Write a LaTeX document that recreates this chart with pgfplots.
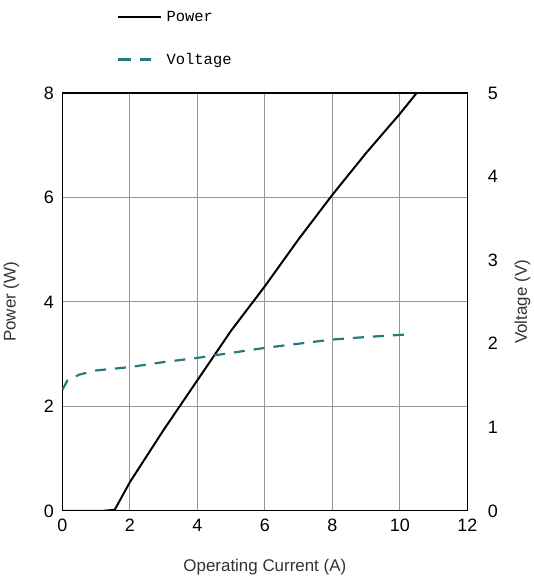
\documentclass[border=0pt]{standalone}
\usepackage{fontspec}
\setmainfont{Liberation Sans}
\setmonofont{Liberation Mono}
\usepackage{pgfplots}
\pgfplotsset{compat=1.18}
\definecolor{volt}{RGB}{38,122,124}
\definecolor{gridgray}{RGB}{150,150,150}
\pgfplotsset{short legend/.style={legend image code/.code={\draw[##1] (0bp,0bp) -- (33bp,0bp);}}}
\begin{document}
\begin{tikzpicture}[x=1bp,y=1bp]
\pgfplotsset{
  every axis/.append style={
    scale only axis, width=405bp, height=418bp,
    xmin=0, xmax=12,
    major tick length=0pt,
    axis line style={line width=1.2pt},
    tick label style={font=\fontsize{18}{20}\selectfont},
    label style={font=\fontsize{17}{20}\selectfont, text=black!80},
    /pgf/number format/assume math mode=true,
  },
}
\begin{axis}[
  name=main,
  ymin=0, ymax=8,
  xtick={0,2,...,12}, ytick={0,2,...,8},
  grid=major,
  grid style={gridgray, line width=0.9pt},
  xticklabel style={yshift=-5bp},
  yticklabel style={xshift=-5bp},
  xlabel={Operating Current (A)},
  ylabel={Power (W)},
  xlabel style={yshift=-20bp},
  ylabel style={yshift=18bp},
  legend style={at={(0.126,1.055)}, anchor=south west, draw=none, fill=none,
    font=\ttfamily\fontsize{15.5}{16}\selectfont, row sep=26bp,
    cells={anchor=west},
    /tikz/every odd column/.append style={column sep=3bp}},
  legend image code/.code={\draw[#1] (0bp,0bp) -- (43bp,0bp);},
]
\addplot[black, line width=2pt] coordinates {
  (0,0) (1.2,0) (1.55,0.02) (2,0.55) (3,1.55) (4,2.5) (5,3.45)
  (6,4.3) (7,5.2) (8,6.05) (9,6.85) (10,7.6) (10.5,8)
};
\addlegendentry{Power}
\addlegendimage{volt, line width=2.2pt, dash pattern=on 13bp off 9bp, short legend}
\addlegendentry{Voltage}
\end{axis}
\begin{axis}[
  ymin=0, ymax=5,
  axis x line=none,
  axis y line*=right,
  ytick={0,1,...,5},
  ylabel={Voltage (V)},
  ylabel style={yshift=-10bp},
  yticklabel style={xshift=17bp},
]
\addplot[volt, line width=2.2pt, dash pattern=on 11bp off 9bp] coordinates {
  (0,1.45) (0.15,1.56) (0.5,1.63) (1,1.68) (2,1.72) (3,1.78) (4,1.83)
  (5,1.89) (6,1.95) (7,2.0) (8,2.05) (9,2.08) (10.2,2.11)
};
\end{axis}
\path (main.north west) ++(0,93bp);
\end{tikzpicture}
\end{document}
